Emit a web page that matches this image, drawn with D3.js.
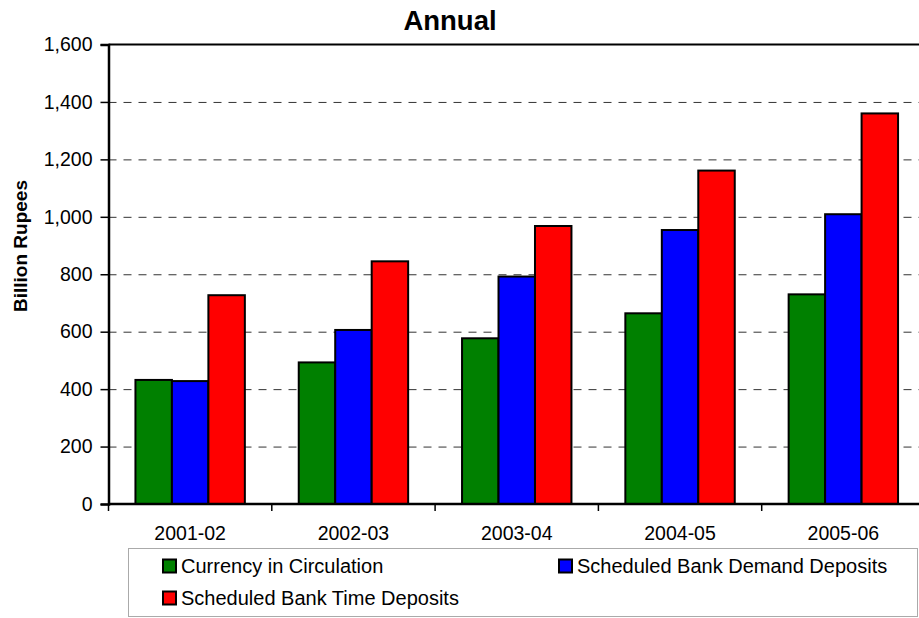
<!DOCTYPE html>
<html>
<head>
<meta charset="utf-8">
<script src="https://cdn.jsdelivr.net/npm/d3@7"></script>
<style>
    body { margin: 0; background: #fff; }
    svg { display: block; font-family: "Liberation Sans", Arial, sans-serif; }
</style>
</head>
<body>
<svg id="chart" width="919" height="618"></svg>
<script>
// Chart data
const years = ['2001-02', '2002-03', '2003-04', '2004-05', '2005-06'];
const seriesNames = [
    'Currency in Circulation',
    'Scheduled Bank Demand Deposits',
    'Scheduled Bank Time Deposits'
];
const currency = [432, 493, 577, 664, 730];
const demandDeposits = [428, 606, 792, 954, 1009];
const timeDeposits = [727, 845, 968, 1161, 1360];
const yTicks = [0, 200, 400, 600, 800, 1000, 1200, 1400, 1600];

const seriesColors = ['#008000', '#0000ff', '#ff0000'];
const seriesValues = [currency, demandDeposits, timeDeposits];

// Layout
const plot = { left: 108.5, top: 44.5, bottom: 504, right: 925 };

const svg = d3.select('#chart');

const x0 = d3.scaleBand()
    .domain(years)
    .range([plot.left, plot.right])
    .paddingInner(0.33)
    .paddingOuter(0.165);

const x1 = d3.scaleBand()
    .domain(d3.range(seriesNames.length))
    .range([0, x0.bandwidth()]);

const y = d3.scaleLinear()
    .domain([0, 1600])
    .range([plot.bottom, plot.top]);

// Dashed grid lines
svg.append('g')
    .attr('transform', `translate(${plot.left},0)`)
    .call(d3.axisLeft(y)
        .tickValues(yTicks.filter(d => d > 0 && d < 1600))
        .tickSize(-(plot.right - plot.left))
        .tickFormat(''))
    .call(g => g.select('.domain').remove())
    .selectAll('line')
    .attr('stroke', '#333')
    .attr('stroke-width', 1)
    .attr('stroke-dasharray', '8,7');

// Top border of plot area
svg.append('line')
    .attr('x1', plot.left).attr('x2', plot.right)
    .attr('y1', y(1600)).attr('y2', y(1600))
    .attr('stroke', '#000')
    .attr('stroke-width', 2);

// Bars
const groups = svg.append('g')
    .selectAll('g')
    .data(years)
    .join('g')
    .attr('transform', d => `translate(${x0(d)},0)`);

groups.selectAll('rect')
    .data((d, i) => seriesValues.map((vals, s) => ({ s, v: vals[i] })))
    .join('rect')
    .attr('x', d => x1(d.s))
    .attr('y', d => y(d.v))
    .attr('width', x1.bandwidth())
    .attr('height', d => y(0) - y(d.v))
    .attr('fill', d => seriesColors[d.s])
    .attr('stroke', '#000')
    .attr('stroke-width', 2);

// Y axis
const yAxis = svg.append('g')
    .attr('transform', `translate(${plot.left},0)`)
    .call(d3.axisLeft(y)
        .tickValues(yTicks)
        .tickSize(8)
        .tickPadding(8)
        .tickFormat(d3.format(',')));
yAxis.select('.domain').attr('stroke-width', 2.5);
yAxis.selectAll('.tick line').attr('stroke-width', 1.5);
yAxis.selectAll('text')
    .attr('font-size', 19.5)
    .attr('font-family', '"Liberation Sans", Arial, sans-serif')
    .attr('fill', '#000');

// X axis with ticks between categories
const xAxis = svg.append('g')
    .attr('transform', `translate(0,${plot.bottom})`);
xAxis.append('line')
    .attr('x1', plot.left).attr('x2', plot.right)
    .attr('stroke', '#000')
    .attr('stroke-width', 2.5);
xAxis.selectAll('.sep')
    .data(years)
    .join('line')
    .attr('class', 'sep')
    .attr('x1', d => x0(d) - x0.step() * x0.paddingOuter())
    .attr('x2', d => x0(d) - x0.step() * x0.paddingOuter())
    .attr('y1', 0)
    .attr('y2', 7)
    .attr('stroke', '#000')
    .attr('stroke-width', 1.5);
xAxis.selectAll('.lbl')
    .data(years)
    .join('text')
    .attr('class', 'lbl')
    .attr('x', d => x0(d) + x0.bandwidth() / 2)
    .attr('y', 36)
    .attr('text-anchor', 'middle')
    .attr('font-size', 19.5)
    .text(d => d);

// Title
svg.append('text')
    .attr('x', 450)
    .attr('y', 30)
    .attr('text-anchor', 'middle')
    .attr('font-size', 27.5)
    .attr('font-weight', 'bold')
    .text('Annual');

// Y axis title
svg.append('text')
    .attr('transform', 'translate(27,246) rotate(-90)')
    .attr('text-anchor', 'middle')
    .attr('font-size', 19)
    .attr('font-weight', 'bold')
    .text('Billion Rupees');

// Legend
const legend = svg.append('g');
legend.append('rect')
    .attr('x', 128.5).attr('y', 548.5)
    .attr('width', 789).attr('height', 68)
    .attr('fill', '#fff')
    .attr('stroke', '#555')
    .attr('stroke-width', 1)
    .attr('stroke-dasharray', '1,1');

const legendPos = [
    { x: 163, y: 566 },
    { x: 559, y: 566 },
    { x: 163, y: 598 }
];

const items = legend.selectAll('.item')
    .data(seriesNames)
    .join('g')
    .attr('class', 'item')
    .attr('transform', (d, i) => `translate(${legendPos[i].x},${legendPos[i].y})`);
items.append('rect')
    .attr('x', 0).attr('y', -6.5)
    .attr('width', 13).attr('height', 13)
    .attr('fill', (d, i) => seriesColors[i])
    .attr('stroke', '#000')
    .attr('stroke-width', 2);
items.append('text')
    .attr('x', 18)
    .attr('y', 7)
    .attr('font-size', 20)
    .text(d => d);
</script>
</body>
</html>
